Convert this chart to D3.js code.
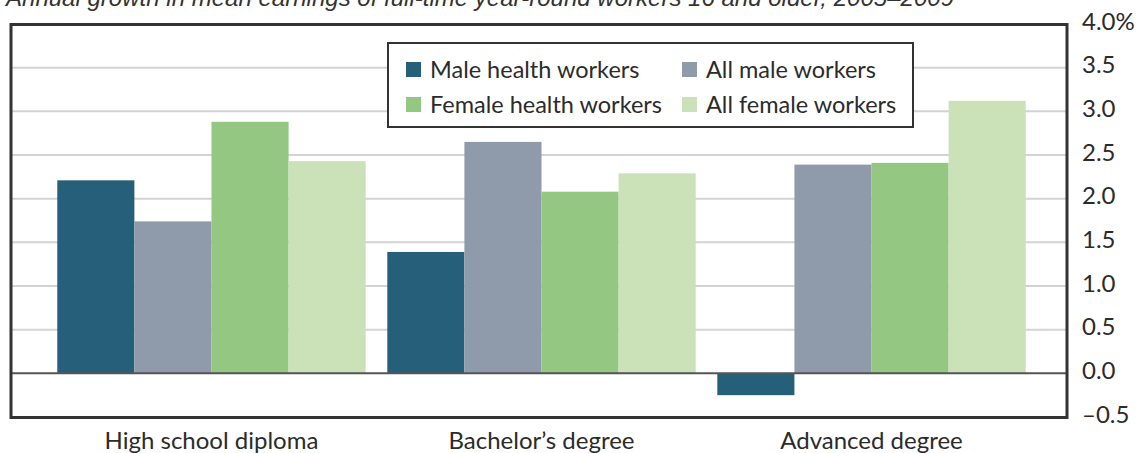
<!DOCTYPE html>
<html>
<head>
<meta charset="utf-8">
<script src="https://cdn.jsdelivr.net/npm/d3@7"></script>
<style>
  body { margin: 0; background: #fff; }
  svg { display: block; }
  text { font-family: Lato, "DejaVu Sans", sans-serif; fill: #2b2b2b; }
</style>
</head>
<body>
<svg></svg>
<script>
// data
const categories = ["High school diploma", "Bachelor\u2019s degree", "Advanced degree"];
const seriesNames = ["Male health workers", "All male workers", "Female health workers", "All female workers"];
const maleHealth = [2.21, 1.39, -0.25];
const allMale = [1.74, 2.65, 2.39];
const femaleHealth = [2.88, 2.08, 2.41];
const allFemale = [2.43, 2.29, 3.12];
const yTicks = [-0.5, 0, 0.5, 1, 1.5, 2, 2.5, 3, 3.5, 4];
const colors = ["#265f7a", "#8f9bab", "#93c782", "#cbe1b8"];
const title = "Annual growth in mean earnings of full-time year-round workers 16 and older, 2005\u20132009";

const width = 1146, height = 453;
const frame = { left: 11, right: 1067, top: 24.5, bottom: 417.5 };

const svg = d3.select("svg").attr("width", width).attr("height", height);

const values = [maleHealth, allMale, femaleHealth, allFemale];
const rows = categories.map((c, i) => ({
  cat: c,
  vals: seriesNames.map((s, j) => ({ s: s, v: values[j][i], k: j }))
}));

const x0 = d3.scaleBand()
  .domain(categories)
  .range([46.5, 1036.5])
  .paddingInner(0.0655)
  .paddingOuter(0.0327);
const x1 = d3.scaleBand()
  .domain(seriesNames)
  .range([0, x0.bandwidth()]);
const y = d3.scaleLinear()
  .domain([-0.5, 4])
  .range([417, 24]);

// title, cut off at the top like the source
svg.append("text")
  .attr("x", 6).attr("y", 6)
  .attr("textLength", 948)
  .attr("lengthAdjust", "spacingAndGlyphs")
  .style("font-family", "'Liberation Sans', Arial, sans-serif")
  .style("font-style", "italic")
  .style("font-size", "23px")
  .style("fill", "#333")
  .text(title);

// gridlines
svg.append("g").selectAll("line")
  .data(yTicks.filter(t => t > 0 && t < 4))
  .enter().append("line")
  .attr("x1", frame.left).attr("x2", frame.right)
  .attr("y1", d => y(d)).attr("y2", d => y(d))
  .attr("stroke", "#d3d3d3").attr("stroke-width", 2);

// bars
svg.append("g").selectAll("g")
  .data(rows).enter().append("g")
  .attr("transform", d => `translate(${x0(d.cat)},0)`)
  .selectAll("rect")
  .data(d => d.vals).enter().append("rect")
  .attr("x", d => x1(d.s))
  .attr("width", x1.bandwidth())
  .attr("y", d => y(Math.max(0, d.v)))
  .attr("height", d => Math.abs(y(d.v) - y(0)))
  .attr("fill", d => colors[d.k]);

// zero line
svg.append("line")
  .attr("x1", frame.left).attr("x2", frame.right)
  .attr("y1", y(0)).attr("y2", y(0))
  .attr("stroke", "#555").attr("stroke-width", 2);

// frame
svg.append("rect")
  .attr("x", frame.left).attr("y", frame.top)
  .attr("width", frame.right - frame.left)
  .attr("height", frame.bottom - frame.top)
  .attr("fill", "none")
  .attr("stroke", "#333").attr("stroke-width", 3);

// y axis on the right
const yAxis = svg.append("g")
  .attr("transform", `translate(${frame.right},0)`)
  .call(d3.axisRight(y).tickValues(yTicks).tickSize(0).tickPadding(15)
    .tickFormat(d => {
      if (d === 4) return "4.0%";
      if (d < 0) return "\u2013" + Math.abs(d).toFixed(1);
      return d.toFixed(1);
    }));
yAxis.select(".domain").remove();
yAxis.selectAll("text")
  .attr("dy", null).attr("y", 5)
  .style("font-family", "Lato, sans-serif")
  .style("font-size", "24px")
  .style("fill", "#2b2b2b");

// x axis labels
const xAxis = svg.append("g")
  .attr("transform", `translate(0,${frame.bottom})`)
  .call(d3.axisBottom(x0).tickSize(0));
xAxis.select(".domain").remove();
xAxis.selectAll("text")
  .attr("dy", null).attr("y", 31)
  .style("font-family", "Lato, sans-serif")
  .style("font-size", "24px")
  .style("fill", "#2b2b2b");

// legend
const legend = svg.append("g");
legend.append("rect")
  .attr("x", 388).attr("y", 43)
  .attr("width", 525).attr("height", 84)
  .attr("fill", "#fff")
  .attr("stroke", "#333").attr("stroke-width", 2);
const item = legend.selectAll("g.item")
  .data(seriesNames).enter().append("g")
  .attr("class", "item")
  .attr("transform", (d, i) => `translate(${i % 2 ? 682 : 406},${i < 2 ? 62 : 97})`);
item.append("rect")
  .attr("width", 15).attr("height", 15)
  .attr("fill", (d, i) => colors[i]);
item.append("text")
  .attr("x", 24).attr("y", 16)
  .style("font-size", "23.5px")
  .text(d => d);
</script>
</body>
</html>
